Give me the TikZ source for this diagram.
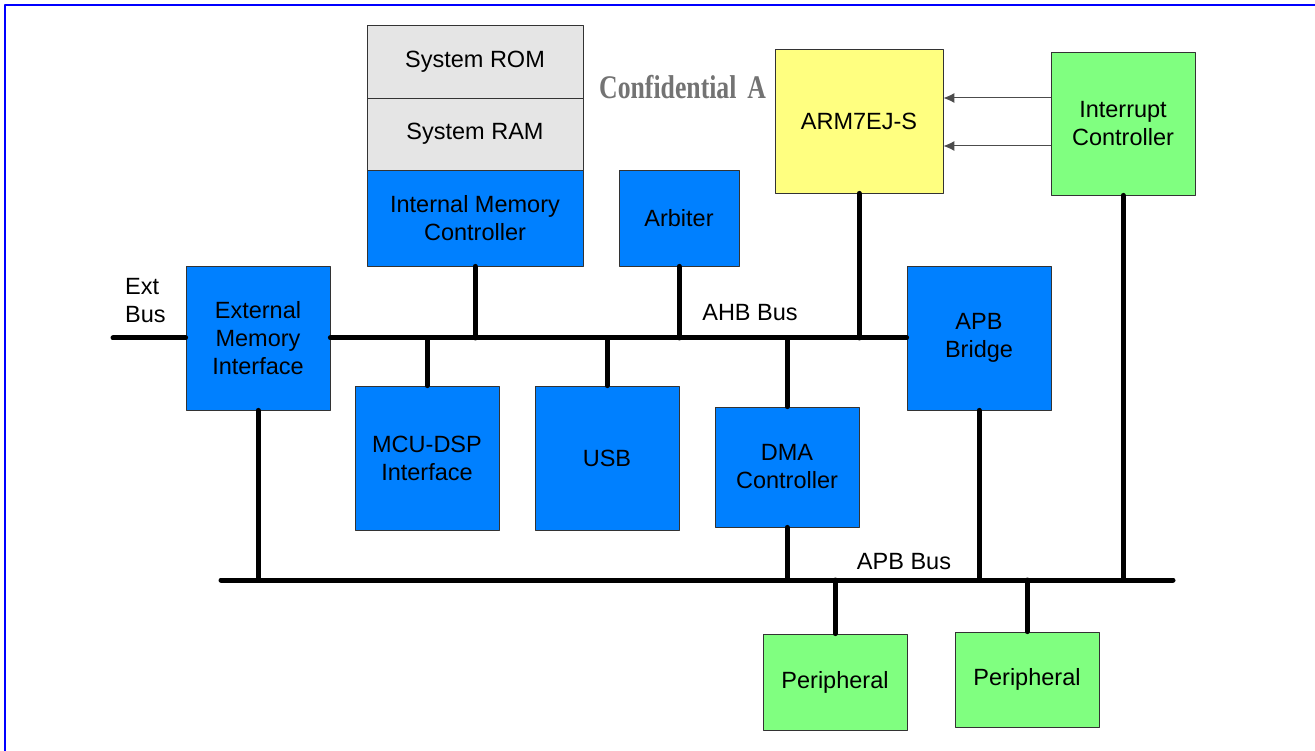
\documentclass[tikz,border=0pt]{standalone}
\usepackage{fontspec}
\setmainfont{Liberation Sans}
\newfontfamily\conffont{Liberation Serif}
\usetikzlibrary{arrows.meta}

\definecolor{blkblue}{HTML}{0080FF}
\definecolor{blkyellow}{HTML}{FFFF80}
\definecolor{blkgreen}{HTML}{80FF80}
\definecolor{blkgray}{HTML}{E5E5E5}
\definecolor{frameblue}{HTML}{0000FF}

\begin{document}
\begin{tikzpicture}[x=1pt,y=-1pt,line join=round,line cap=round,
	blk/.style={draw=black!80,line width=0.8pt,align=center,inner sep=0pt,
		font=\fontsize{23.5}{28}\selectfont},
	blue/.style={blk,fill=blkblue},
	bus/.style={line width=5pt},
	irq/.style={draw=black!70,line width=1pt,-{Latex[length=11pt,width=10pt]}},
	lbl/.style={font=\fontsize{23.5}{28}\selectfont,inner sep=0pt,align=left}]
		\useasboundingbox (0,0) rectangle (1315,751);
		\draw[frameblue,line width=2.5pt,line cap=butt] (5,751) -- (5,5) -- (1315,5);

		\node[blk,fill=blkgray,minimum width=216pt,minimum height=73pt] (rom) at (475,61.5) {System ROM};
		\node[blk,fill=blkgray,minimum width=216pt,minimum height=72pt] (ram) at (475,134) {System RAM};
		\node[blue,minimum width=216pt,minimum height=96pt] (imc) at (475,218) {Internal Memory\\Controller};
		\node[blue,minimum width=120pt,minimum height=96pt] (arb) at (679,218) {Arbiter};
		\node[blk,fill=blkyellow,minimum width=168pt,minimum height=144pt] (arm) at (859,121) {ARM7EJ-S};
		\node[blk,fill=blkgreen,minimum width=144pt,minimum height=143pt] (intc) at (1123,123.5) {Interrupt\\Controller};
		\node[blue,minimum width=144pt,minimum height=144pt] (emi) at (258,338) {External\\Memory\\Interface};
		\node[blue,minimum width=144pt,minimum height=144pt] (bridge) at (979,338) {APB\\Bridge};
		\node[blue,minimum width=144pt,minimum height=144pt] (mcudsp) at (427,458) {MCU-DSP\\Interface};
		\node[blue,minimum width=144pt,minimum height=144pt] (usb) at (607,458) {USB};
		\node[blue,minimum width=144pt,minimum height=120pt] (dma) at (787,467) {DMA\\Controller};
		\node[blk,fill=blkgreen,minimum width=144pt,minimum height=96pt] (periphA) at (835,682) {Peripheral};
		\node[blk,fill=blkgreen,minimum width=144pt,minimum height=95pt] (periphB) at (1027,679.5) {Peripheral};

		\node[font=\conffont\bfseries\fontsize{33}{35}\selectfont,text=black!55,inner sep=0pt,anchor=west] (conf) at (599,87) {\scalebox{0.78}[1]{Confidential\hspace{14pt}A}};

		\coordinate (extL) at (113,338);
		\coordinate (apbL) at (221,580);
		\coordinate (apbR) at (1173,580);

		% buses
		\draw[bus] (extL) -- (emi.west);
		\draw[bus] (emi.east) -- (bridge.west);
		\draw[bus] (apbL) -- (apbR);

		\draw[bus] (imc.south) -- (imc.south |- emi.east);
		\draw[bus] (arb.south) -- (arb.south |- emi.east);
		\draw[bus] (arm.south) -- (arm.south |- emi.east);
		\draw[bus] (mcudsp.north) -- (mcudsp.north |- emi.east);
		\draw[bus] (usb.north) -- (usb.north |- emi.east);
		\draw[bus] (dma.north) -- (dma.north |- emi.east);
		\draw[bus] (dma.south) -- (dma.south |- apbL);
		\draw[bus] (emi.south) -- (emi.south |- apbL);
		\draw[bus] (bridge.south) -- (bridge.south |- apbL);
		\draw[bus] (intc.south) -- (intc.south |- apbL);
		\draw[bus] (periphA.north) -- (periphA.north |- apbL);
		\draw[bus] (periphB.north) -- (periphB.north |- apbL);

		\draw[irq] (intc.west |- 0,98) -- (arm.east |- 0,98);
		\draw[irq] (intc.west |- 0,146) -- (arm.east |- 0,146);

		\node[lbl,anchor=west] (extlbl) at (125,301) {Ext\\Bus};
		\node[lbl] (ahblbl) at (750,313) {AHB Bus};
		\node[lbl] (apblbl) at (904,562) {APB Bus};
		\end{tikzpicture}
\end{document}
